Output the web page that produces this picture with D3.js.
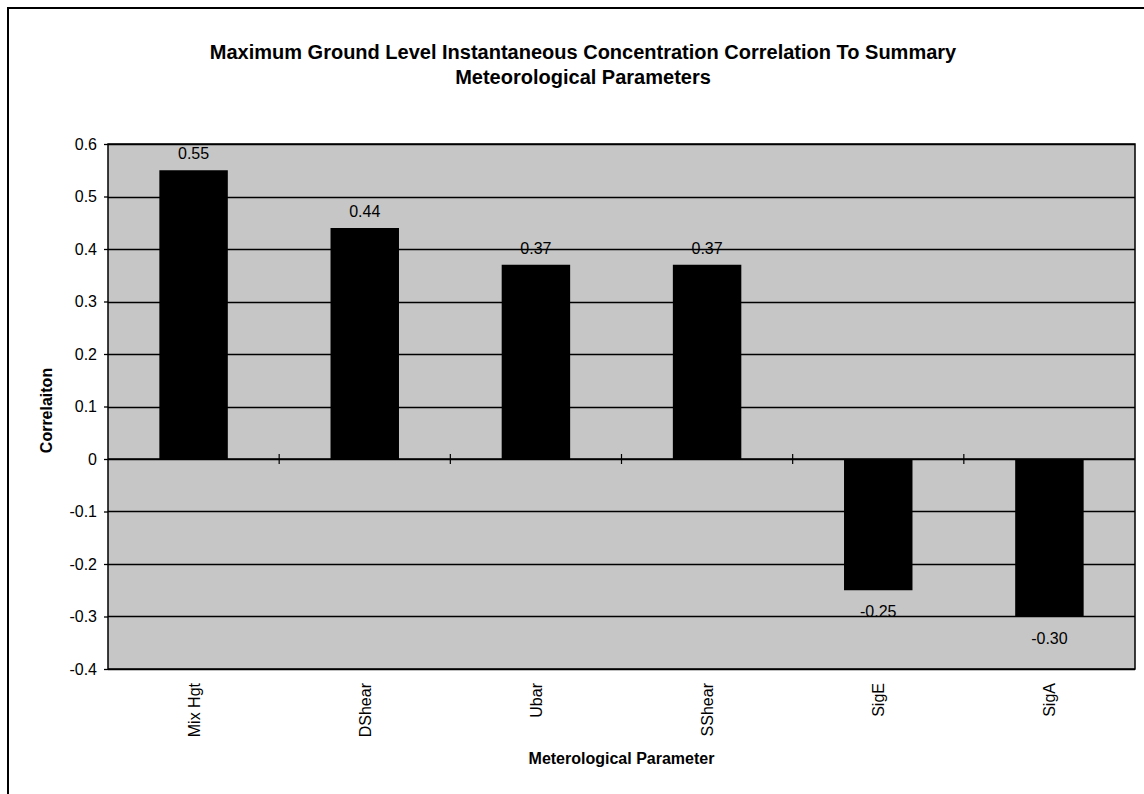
<!DOCTYPE html>
<html>
<head>
<meta charset="utf-8">
<script src="https://cdn.jsdelivr.net/npm/d3@7"></script>
<style>
  html, body { margin: 0; padding: 0; background: #fff; }
  svg { display: block; font-family: "Liberation Sans", Arial, sans-serif; }
</style>
</head>
<body>
<svg id="chart" width="1144" height="794"></svg>
<script>
const categories = ["Mix Hgt", "DShear", "Ubar", "SShear", "SigE", "SigA"];
const values = [0.55, 0.44, 0.37, 0.37, -0.25, -0.30];
const valueLabels = ["0.55", "0.44", "0.37", "0.37", "-0.25", "-0.30"];
const yTicks = [0.6, 0.5, 0.4, 0.3, 0.2, 0.1, 0, -0.1, -0.2, -0.3, -0.4];
const yTickLabels = ["0.6", "0.5", "0.4", "0.3", "0.2", "0.1", "0", "-0.1", "-0.2", "-0.3", "-0.4"];
const titleLines = ["Maximum Ground Level Instantaneous Concentration Correlation To Summary", "Meteorological Parameters"];
const xTitle = "Meterological Parameter";
const yTitle = "Correlaiton";

const svg = d3.select("#chart");

// outer chart border (right/bottom lie outside the page)
svg.append("rect").attr("x", 8).attr("y", 8).attr("width", 1160).attr("height", 820)
  .attr("fill", "#fff").attr("stroke", "#000").attr("stroke-width", 2);

const plot = { left: 108, right: 1135, top: 144, bottom: 669 };

const x = d3.scaleBand().domain(categories).range([plot.left, plot.right]).paddingInner(0.6).paddingOuter(0.3);
const xb = d3.scaleBand().domain(categories).range([plot.left, plot.right]);
const y = d3.scaleLinear().domain([-0.4, 0.6]).range([plot.bottom, plot.top]);

// plot background
svg.append("rect").attr("x", plot.left).attr("y", plot.top)
  .attr("width", plot.right - plot.left).attr("height", plot.bottom - plot.top)
  .attr("fill", "#c6c6c6");

// gridlines
svg.append("g").selectAll("line").data(yTicks).join("line")
  .attr("x1", plot.left).attr("x2", plot.right)
  .attr("y1", d => Math.round(y(d)) + 0.5).attr("y2", d => Math.round(y(d)) + 0.5)
  .attr("stroke", "#000").attr("stroke-width", 1.3);

// y axis
const yAxis = d3.axisLeft(y).tickValues(yTicks).tickSize(4).tickPadding(7)
  .tickFormat((d, i) => yTickLabels[i]);
const gy = svg.append("g").attr("transform", `translate(${plot.left},0)`).call(yAxis);
gy.select(".domain").remove();
gy.selectAll("line").attr("stroke", "#000").attr("stroke-width", 1.3);
gy.selectAll("text").attr("font-size", 16).attr("fill", "#000");

// bars
svg.append("g").selectAll("rect").data(values).join("rect")
  .attr("x", (d, i) => x(categories[i]))
  .attr("width", x.bandwidth())
  .attr("y", d => y(Math.max(0, d)))
  .attr("height", d => Math.abs(y(d) - y(0)))
  .attr("fill", "#000");

// zero axis with cross ticks between categories
svg.append("line").attr("x1", plot.left).attr("x2", plot.right)
  .attr("y1", y(0)).attr("y2", y(0)).attr("stroke", "#000").attr("stroke-width", 1.5);
svg.append("g").selectAll("line").data(categories.slice(1)).join("line")
  .attr("x1", d => xb(d)).attr("x2", d => xb(d))
  .attr("y1", y(0) - 5).attr("y2", y(0) + 5)
  .attr("stroke", "#000").attr("stroke-width", 1.2);

// plot border
svg.append("rect").attr("x", plot.left).attr("y", plot.top)
  .attr("width", plot.right - plot.left).attr("height", plot.bottom - plot.top)
  .attr("fill", "none").attr("stroke", "#000").attr("stroke-width", 1.5);

// data labels
svg.append("g").selectAll("text").data(values).join("text")
  .attr("x", (d, i) => xb(categories[i]) + xb.bandwidth() / 2)
  .attr("y", d => d >= 0 ? y(d) - 11 : y(d) + 27)
  .attr("text-anchor", "middle").attr("font-size", 16).attr("fill", "#000")
  .text((d, i) => valueLabels[i]);

// category labels (rotated)
svg.append("g").selectAll("text").data(categories).join("text")
  .attr("transform", d => `translate(${xb(d) + xb.bandwidth() / 2 + 6},${plot.bottom + 14}) rotate(-90)`)
  .attr("text-anchor", "end").attr("font-size", 16).attr("fill", "#000")
  .text(d => d);

// titles
svg.append("g").selectAll("text").data(titleLines).join("text")
  .attr("x", 583).attr("y", (d, i) => 59 + i * 25)
  .attr("text-anchor", "middle").attr("font-size", 20).attr("font-weight", "bold")
  .text(d => d);

svg.append("text").attr("x", (plot.left + plot.right) / 2).attr("y", 764)
  .attr("text-anchor", "middle").attr("font-size", 16).attr("font-weight", "bold")
  .text(xTitle);

svg.append("text").attr("transform", `translate(52,${(plot.top + plot.bottom) / 2 + 4}) rotate(-90)`)
  .attr("text-anchor", "middle").attr("font-size", 16).attr("font-weight", "bold")
  .text(yTitle);
</script>
</body>
</html>
